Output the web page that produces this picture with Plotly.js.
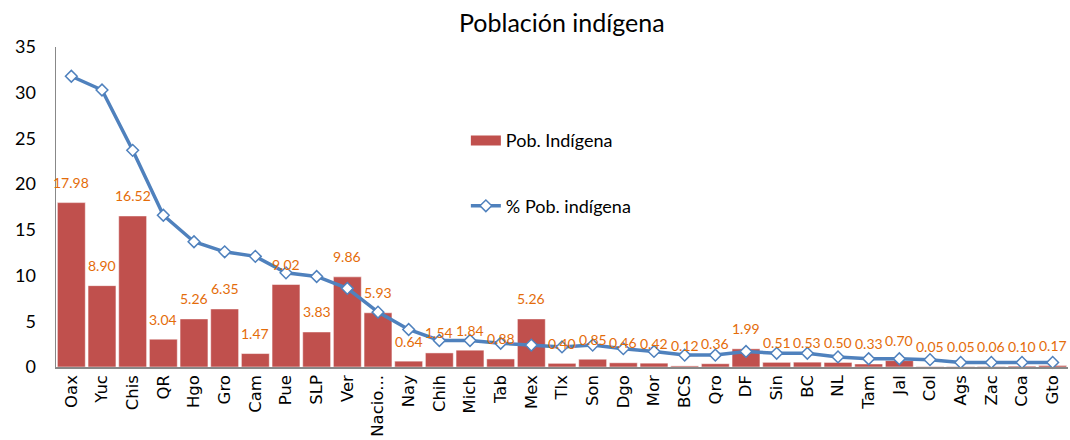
<!DOCTYPE html>
<html>
<head>
<meta charset="utf-8">
<script src="https://cdn.plot.ly/plotly-3.0.1.min.js"></script>
<style>html,body{margin:0;padding:0;background:#fff;}#chart{width:1070px;height:440px;}</style>
</head>
<body>
<div id="chart"></div>
<script>
const categories = ["Oax","Yuc","Chis","QR","Hgo","Gro","Cam","Pue","SLP","Ver","Nacio...","Nay","Chih","Mich","Tab","Mex","Tlx","Son","Dgo","Mor","BCS","Qro","DF","Sin","BC","NL","Tam","Jal","Col","Ags","Zac","Coa","Gto"];
const pobIndigena = [17.98,8.90,16.52,3.04,5.26,6.35,1.47,9.02,3.83,9.86,5.93,0.64,1.54,1.84,0.88,5.26,0.40,0.85,0.46,0.42,0.12,0.36,1.99,0.51,0.53,0.50,0.33,0.70,0.05,0.05,0.06,0.10,0.17];
const pctIndigena = [31.8,30.3,23.7,16.6,13.7,12.6,12.1,10.3,9.9,8.6,6.0,4.1,2.9,2.9,2.6,2.4,2.2,2.4,2.0,1.7,1.3,1.3,1.7,1.5,1.5,1.1,0.9,0.9,0.8,0.5,0.5,0.5,0.5];
const yTicks = [0,5,10,15,20,25,30,35];

const BAR_COLOR = '#C0504D';
const bars = {
  type: 'bar', name: 'Pob. Indígena', x: categories, y: pobIndigena,
  marker: {color: BAR_COLOR, line: {color: '#ffffff', width: 0.5}},
  showlegend: false, hoverinfo: 'x+y'
};
const barLegend = {
  type: 'scatter', mode: 'lines', name: 'Pob. Indígena', x: [null], y: [null],
  line: {color: BAR_COLOR, width: 12}, legendgroup: 'a', showlegend: true
};
const line = {
  type: 'scatter', mode: 'lines+markers', name: '% Pob. indígena', x: categories, y: pctIndigena,
  line: {color: '#4F81BD', width: 3.5},
  marker: {symbol: 'diamond', size: 9, color: '#ffffff', line: {color: '#4F81BD', width: 1.5}},
  legendgroup: 'b', cliponaxis: false
};
const annotations = categories.map((c, i) => ({
  x: c, y: pobIndigena[i], xref: 'x', yref: 'y', text: pobIndigena[i].toFixed(2),
  showarrow: false, yshift: 20, yanchor: 'middle',
  font: {family: 'Lato, "Open Sans", sans-serif', size: 14, color: '#E46C0A'}
}));
annotations.push({
  xref: 'paper', yref: 'paper', x: 0.5, y: 1.078, text: 'Población indígena', showarrow: false,
  xanchor: 'center', yanchor: 'middle',
  font: {family: 'Lato, "Open Sans", sans-serif', size: 25, color: '#000'}
});

const layout = {
  width: 1070, height: 440,
  margin: {l: 56, r: 2, t: 47, b: 73},
  paper_bgcolor: '#ffffff', plot_bgcolor: '#ffffff',
  showlegend: true,
  legend: {x: 0.405, y: 0.765, xanchor: 'left', yanchor: 'top', bgcolor: 'rgba(0,0,0,0)',
    font: {family: 'Lato, "Open Sans", sans-serif', size: 18, color: '#000'},
    tracegroupgap: 39, traceorder: 'grouped'},
  bargap: 0.09,
  xaxis: {
    type: 'category', range: [-0.5, 32.5], tickangle: -90, showgrid: false, showline: true,
    linecolor: '#888', linewidth: 1.5, ticks: '',
    tickfont: {family: '"DejaVu Sans", sans-serif', size: 16.5, color: '#000'}, automargin: false
  },
  yaxis: {
    range: [0, 35], tickvals: yTicks, showgrid: false, zeroline: false, showline: true,
    linecolor: '#888', linewidth: 1.5, ticks: '', ticklabelstandoff: 15,
    tickfont: {family: 'Lato, "Open Sans", sans-serif', size: 18, color: '#000'}, automargin: false
  },
  annotations: annotations
};
Plotly.newPlot('chart', [bars, barLegend, line], layout, {displayModeBar: false, staticPlot: true});
</script>
</body>
</html>
